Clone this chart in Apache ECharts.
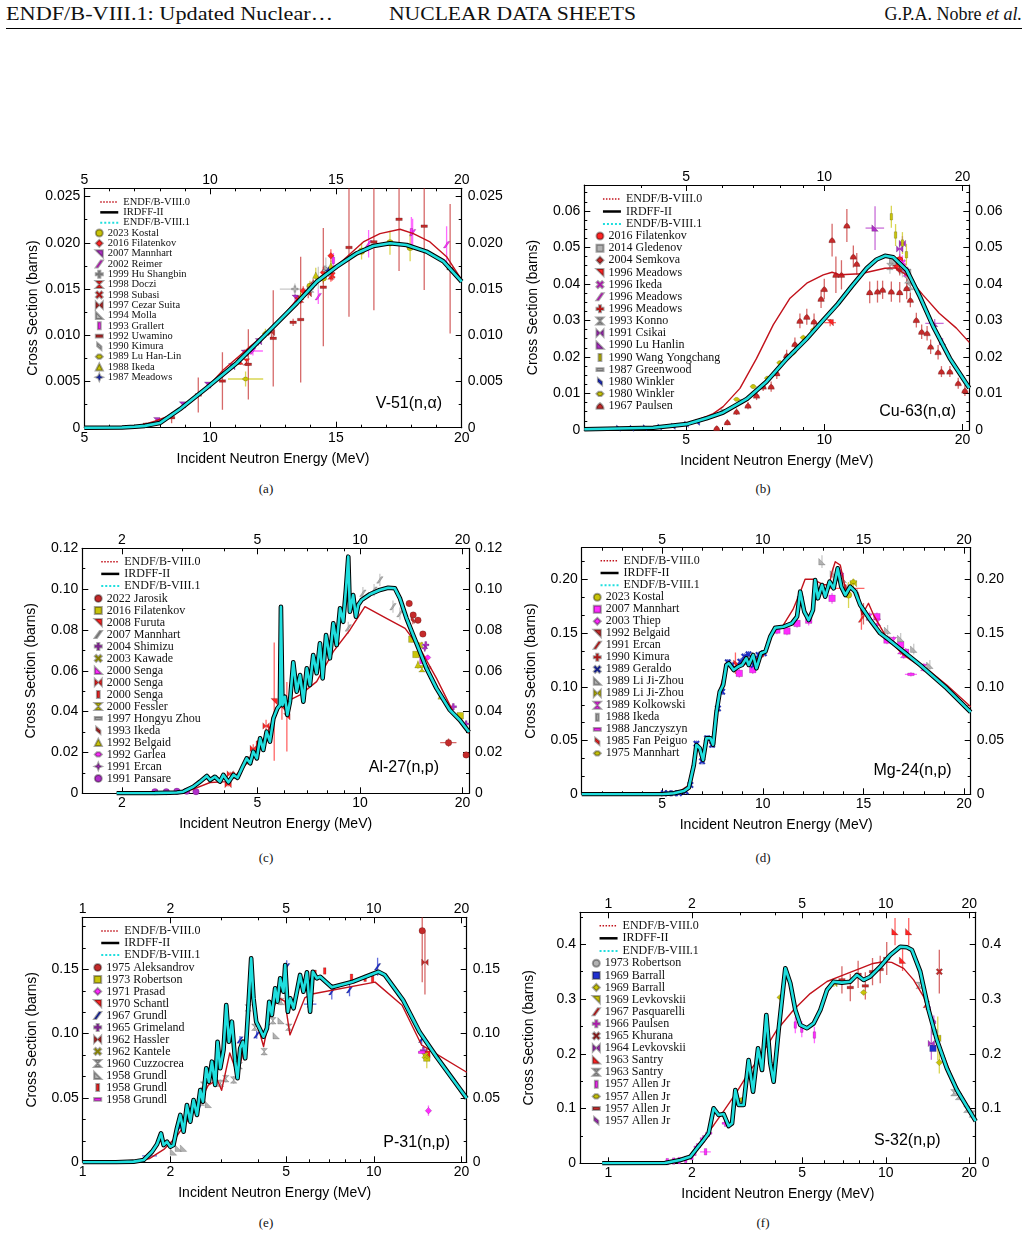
<!DOCTYPE html>
<html>
<head>
<meta charset="utf-8">
<script src="https://cdn.jsdelivr.net/npm/echarts/dist/echarts.min.js"></script>
<style>
  body { margin: 0; background: #fff; }
  #page { position: relative; width: 1029px; height: 1238px; overflow: hidden; }
  .chart { position: absolute; left: 0; top: 0; width: 1029px; height: 1238px; }
  svg { position: absolute; left: 0; top: 0; }
</style>
</head>
<body>
<div id="page">
<svg width="1029" height="1238">
  <g font-family="Liberation Serif, serif" fill="#111">
    <text x="6" y="20" font-size="18" textLength="327" lengthAdjust="spacingAndGlyphs">ENDF/B-VIII.1: Updated Nuclear…</text>
    <text x="389" y="20" font-size="18" textLength="247" lengthAdjust="spacingAndGlyphs">NUCLEAR DATA SHEETS</text>
    <text x="1022" y="20" font-size="18" text-anchor="end">G.P.A. Nobre <tspan font-style="italic">et al.</tspan></text>
    <text x="266" y="493" font-size="13" text-anchor="middle">(a)</text>
    <text x="763" y="493" font-size="13" text-anchor="middle">(b)</text>
    <text x="266" y="862" font-size="13" text-anchor="middle">(c)</text>
    <text x="763" y="862" font-size="13" text-anchor="middle">(d)</text>
    <text x="266" y="1227" font-size="13" text-anchor="middle">(e)</text>
    <text x="763" y="1227" font-size="13" text-anchor="middle">(f)</text>
  </g>
  <line x1="6" y1="28.5" x2="1022" y2="28.5" stroke="#000" stroke-width="1"/>
</svg>
<div class="chart" id="pa"></div>
<div class="chart" id="pb"></div>
<div class="chart" id="pc"></div>
<div class="chart" id="pd"></div>
<div class="chart" id="pe"></div>
<div class="chart" id="pf"></div>
</div>
<script>
// ---------- colours and marker shapes ----------
var RED = '#ff2424', DRED = '#c42a2a', MAG = '#ff2cff', PUR = '#b02fc8',
    YEL = '#c9c40a', GRAY = '#b2b2b2', BLUE = '#1f2fcf';
var C_ENDF80 = '#c2121b', C_CYAN = '#1fdede';
var S = {
  circle: 'circle', square: 'rect', diamond: 'diamond', tri: 'triangle',
  flagR: 'path://M0,0L10,0L10,10Z',
  flagL: 'path://M0,0L0,10L10,10Z',
  bow: 'path://M0,0L10,0L5,5L10,10L0,10L5,5Z',
  bowH: 'path://M0,0L5,5L10,0L10,10L5,5L0,10Z',
  plus: 'path://M3.5,0H6.5V3.5H10V6.5H6.5V10H3.5V6.5H0V3.5H3.5Z',
  cross: 'path://M0,2L2,0L5,3L8,0L10,2L7,5L10,8L8,10L5,7L2,10L0,8L3,5Z',
  vbar: 'path://M0,0H4V10H0Z',
  hbar: 'path://M0,0H10V4H0Z',
  slash: 'path://M0,10L7,0L10,0L3,10Z',
  star: 'path://M5,0L6.5,3.5L10,5L6.5,6.5L5,10L3.5,6.5L0,5L3.5,3.5Z',
  hat: 'path://M0,5L3,2H7L10,5L7,8H3Z',
  bell: 'path://M5,0C8,2 10,5 10,8H0C0,5 2,2 5,0Z',
  thin: 'path://M2,0L8,5L8,10L2,5Z'
};

// ---------- (a) V-51(n,alpha) ----------
var aXTicks = [5, 10, 15, 20];
var aXMinor = [6, 7, 8, 9, 11, 12, 13, 14, 16, 17, 18, 19];
var aYTicks = [0, 0.005, 0.010, 0.015, 0.020, 0.025];
var aYMinor = [0.0025, 0.0075, 0.0125, 0.0175, 0.0225];
var aEndf80 = [[5,0],[6.5,0.00003],[7.2,0.0002],[7.8,0.0007],[8.4,0.0013],[9.07,0.00246],[9.8,0.0041],[10.52,0.00625],[11.59,0.00877],[12.51,0.0109],[13.04,0.01255],[13.4,0.0137],[13.97,0.0151],[15.03,0.0175],[16.09,0.0201],[16.75,0.0210],[17.55,0.02147],[18.08,0.0210],[18.74,0.0201],[19.4,0.0185],[20,0.0160]];
var aEval = [[5,0],[6.5,0.00002],[7.0,0.0001],[7.41,0.0002],[8.0,0.0005],[8.8,0.002],[9.86,0.0043],[11.06,0.0070],[12.25,0.0102],[13.44,0.01346],[14.24,0.0158],[15.03,0.01742],[15.83,0.01887],[16.49,0.01966],[17.15,0.01996],[17.81,0.01977],[18.6,0.01905],[19.27,0.0180],[20,0.0158]];
var aKostal = [[13.97,0.0153,0.0006],[14.5,0.0162,0.0006],[16.02,0.0191,0.0009],[17.15,0.0200,0.0013],[17.95,0.0195,0.0015]];
var aFilatenkov = [[13.7,0.0148,0.0005],[14.1,0.0156,0.0005],[14.5,0.0168,0.0006],[14.8,0.0186,0.0007]];
var aMannhart = [[7.88,0.00076,0.0002],[8.9,0.00246,0.0002],[9.9,0.0046,0.0003],[10.86,0.0066,0.0003],[11.36,0.00805,0.0004],[11.92,0.0093,0.0004],[13.38,0.0140,0.0005]];
var aReimer = [[11.7,0.0083,0.0005,0.4],[14.3,0.01418,0.0008],[16.3,0.0199,0.0015],[18.05,0.0211,0.0015],[19.4,0.0198,0.0020]];
var aHu = [[13.37,0.0150,0.0006,0.6],[14.1,0.0155,0.0006],[14.6,0.0170,0.0006]];
var aDoczi = [[11.2,0.0072,0.0004],[11.45,0.0071,0.0004],[13.6,0.0139,0.0005],[14.8,0.0164,0.0006]];
var aSubasi = [[13.5,0.0138,0.0005],[14.85,0.0165,0.0006]];
var aCezar = [[12.44,0.0103,0.0005],[13.9,0.0145,0.0005]];
var aMolla = [[14.0,0.0150,0.0005],[14.7,0.0168,0.0005]];
var aGrallert = [[14.9,0.0181,0.0008],[18.0,0.0212,0.0016]];
var aUwamino = [[7.46,0.00037,0.0002],[8.47,0.00108,0.0006],[9.53,0.00354,0.0019],[10.49,0.00505,0.0031],[11.52,0.00686,0.0038],[12.51,0.00967,0.0052],[13.3,0.0114,0.0004],[13.6,0.0117,0.0068],[14.5,0.0152,0.0064],[15.52,0.0195,0.0075],[16.51,0.0201,0.0074],[17.51,0.02255,0.0056],[18.51,0.0218,0.0069],[19.54,0.0172,0.007]];
var aKimura = [[14.3,0.0162,0.0012],[14.6,0.0172,0.0012]];
var aLuHanLin = [[11.41,0.00527,0.0008,0.7],[12.2,0.0102,0.0005]];
var aIkeda = [[13.6,0.0142,0.0006],[14.2,0.0165,0.0008],[14.8,0.0175,0.0006]];
var aMeadows = [[14.7,0.0170,0.0004]];

// ---------- (b) Cu-63(n,alpha) ----------
var bXTicks = [5, 10, 20];
var bXMinor = [4, 6, 7, 8, 9];
var bYTicks = [0, 0.01, 0.02, 0.03, 0.04, 0.05, 0.06];
var bYMinor = [0.0025,0.005,0.0075,0.0125,0.015,0.0175,0.0225,0.025,0.0275,0.0325,0.035,0.0375,0.0425,0.045,0.0475,0.0525,0.055,0.0575,0.0625,0.065];
var bEndf80 = [[3,0.0002],[4.69,0.0008],[5.18,0.0022],[5.73,0.0045],[6.02,0.0064],[6.55,0.0114],[7.12,0.0196],[7.74,0.0288],[8.42,0.0361],[9.16,0.0402],[9.95,0.0425],[10.4,0.0432],[10.82,0.0425],[12.0,0.0428],[13.56,0.0443],[14.3,0.0444],[15.1,0.0425],[16.4,0.037],[17.8,0.032],[19.4,0.0279],[20.7,0.024]];
var bEval = [[3,0.0002],[4.24,0.0006],[5.01,0.0016],[5.54,0.0032],[6.02,0.0048],[6.78,0.0085],[7.49,0.0133],[8.28,0.0195],[9.16,0.025],[9.95,0.0301],[10.7,0.0345],[11.5,0.0395],[12.37,0.0443],[13.0,0.0467],[13.56,0.0477],[14.14,0.0473],[15.12,0.0438],[16.16,0.0365],[17.28,0.0283],[18.78,0.0196],[20.7,0.0115]];
var bFilatenkov = [[14.3,0.0457,0.0015],[14.6,0.0466,0.0015]];
var bGledenov = [[14.1,0.046,0.0015],[15.2,0.0432,0.0015]];
var bSemkova = [[14.6,0.0438,0.0015]];
var bMeadowsA = [[10.3,0.0294,0.001,0.3]];
var bIkeda = [[14.8,0.0458,0.002],[15.0,0.0438,0.002]];
var bMeadowsB = [[15.1,0.043,0.0015]];
var bMeadowsC = [[14.4,0.0448,0.0012]];
var bKonno = [[13.9,0.0448,0.002],[14.8,0.0438,0.002],[15.2,0.0411,0.003],[15.4,0.0393,0.003]];
var bCsikai = [[14.6,0.0496,0.002],[14.8,0.0511,0.002]];
var bLuHanlin = [[12.9,0.0553,0.006,0.6],[17.4,0.0292,0.0012,0.8],[18.1,0.0242,0.001]];
var bWang = [[14.0,0.0584,0.003],[14.3,0.0534,0.003],[14.8,0.0512,0.003],[15.1,0.048,0.003]];
var bGreenwood = [[6.05,0.0053,0.0004],[6.6,0.008,0.0005]];
var bWinklerA = [[3.56,0.0005],[3.81,0.0005],[4.07,0.0006],[4.38,0.0008],[4.69,0.001],[5.01,0.0016],[5.3,0.0021]];
var bWinklerB = [[6.44,0.0084,0.0005],[7.0,0.0119,0.0006],[7.52,0.0142,0.0006],[8.0,0.0184,0.0007],[8.56,0.0212,0.0008],[9.0,0.0253,0.0008],[9.47,0.0274,0.0009]];
var bPaulsen = [[5.83,0.0005,0.0006],[6.15,0.0021,0.0008],[6.44,0.005,0.0009],[6.82,0.0067,0.001],[7.12,0.0094,0.0012],[7.36,0.0119,0.0012],[7.66,0.0119,0.0014],[7.88,0.0155,0.0015],[8.28,0.0204,0.0016],[8.63,0.0235,0.0018],[8.85,0.0299,0.002],[9.16,0.031,0.0022],[9.5,0.0297,0.0022],[9.84,0.0359,0.0025],[10.0,0.0386,0.0028],[10.4,0.052,0.0045],[10.6,0.0425,0.005],[10.9,0.0425,0.004],[11.2,0.056,0.0045],[11.57,0.0475,0.003],[11.77,0.0455,0.003],[12.56,0.0377,0.003],[13.06,0.0379,0.003],[13.4,0.0384,0.0025],[14.0,0.0379,0.0028],[14.6,0.0377,0.0028],[15.12,0.0388,0.003],[15.4,0.0356,0.002],[15.87,0.0301,0.002],[16.3,0.0269,0.002],[16.75,0.0265,0.002],[17.05,0.0228,0.002],[17.7,0.0213,0.002],[18.0,0.016,0.0015],[18.78,0.016,0.0015],[19.58,0.0128,0.0015],[20.25,0.0108,0.0015]];

// ---------- (c) Al-27(n,p) ----------
var cXTicks = [2, 5, 10, 20];
var cXMinor = [3, 4, 6, 7, 8, 9];
var cYTicks = [0, 0.02, 0.04, 0.06, 0.08, 0.10, 0.12];
var cYMinor = [0.01, 0.03, 0.05, 0.07, 0.09, 0.11];
var cEndf80 = [[1.93,0],[2.5,0.0001],[3.0,0.0008],[3.24,0.002],[3.63,0.0053],[4.06,0.0057],[4.33,0.009],[4.65,0.0147],[5.09,0.0229],[5.57,0.036],[5.72,0.0416],[6.09,0.0449],[6.67,0.0482],[7.46,0.0547],[8.35,0.0694],[9.34,0.080],[10.34,0.0914],[12.0,0.0855],[13.57,0.0808],[14.99,0.0710],[16.78,0.0563],[18.77,0.040],[20.9,0.0292]];
var cEval = [[1.93,0],[2.5,0.0001],[2.9,0.0004],[3.03,0.0008],[3.24,0.0032],[3.39,0.0057],[3.55,0.0085],[3.63,0.0065],[3.75,0.0081],[3.88,0.0057],[3.97,0.009],[4.11,0.0054],[4.25,0.009],[4.37,0.0076],[4.50,0.0122],[4.65,0.0171],[4.76,0.0147],[4.86,0.0204],[4.98,0.0171],[5.09,0.0269],[5.20,0.0212],[5.32,0.0302],[5.44,0.0253],[5.57,0.0367],[5.72,0.0416],[5.82,0.0432],[5.86,0.0914],[5.92,0.0432],[6.02,0.0473],[6.12,0.0384],[6.23,0.0449],[6.37,0.0642],[6.52,0.0498],[6.67,0.0579],[6.82,0.0449],[6.98,0.0612],[7.13,0.053],[7.29,0.0677],[7.46,0.0588],[7.63,0.0735],[7.77,0.0563],[7.95,0.0775],[8.16,0.0661],[8.35,0.0833],[8.54,0.0726],[8.74,0.0906],[8.93,0.084],[9.10,0.1004],[9.24,0.1159],[9.34,0.0889],[9.55,0.0971],[9.73,0.0865],[9.88,0.0922],[10.11,0.0947],[10.70,0.0975],[11.44,0.0996],[12.1,0.1007],[12.66,0.1004],[13.1,0.0955],[13.7,0.0857],[14.33,0.0775],[14.99,0.0694],[15.68,0.0612],[16.78,0.0514],[18.36,0.0408],[19.64,0.0359],[20.9,0.030]];
var cJarosik = [[13.95,0.093,0.0015],[14.33,0.0873,0.0015],[14.8,0.0848,0.0015],[15.3,0.078,0.0015],[18.2,0.0248,0.002,1.0],[20.5,0.0188,0.0015]];
var cFilatenkov = [[14.2,0.0755,0.0015],[14.6,0.068,0.0015],[19.7,0.038,0.0015]];
var cFuruta = [[5.6,0.0449,0.029],[5.9,0.042,0.006],[6.1,0.0375,0.017]];
var cMannhart = [[9.24,0.081,0.003],[10.2,0.098,0.003],[11.0,0.0995,0.003],[11.44,0.1045,0.003],[12.5,0.0914,0.003],[13.1,0.088,0.003]];
var cShimizu = [[15.6,0.0727,0.0015],[18.8,0.0424,0.0015],[20.5,0.034,0.0015]];
var cKawade = [[15.0,0.0726,0.0015]];
var cSengaA = [[15.3,0.065,0.0015]];
var cSengaB = [[4.1,0.0043,0.001],[4.16,0.0095,0.001],[4.86,0.022,0.002],[5.3,0.033,0.003]];
var cSengaC = [[4.25,0.0088,0.001],[4.7,0.016,0.002],[5.0,0.024,0.002]];
var cFessler = [[15.2,0.061,0.0015]];
var cHongyu = [[15.8,0.0615,0.0015]];
var cIkeda = [[14.3,0.0848,0.002]];
var cBelgaid = [[14.8,0.063,0.002],[17.3,0.0477,0.0015]];
var cGarlea = [[15.8,0.0665,0.0015]];
var cErcan = [[15.5,0.071,0.0015]];
var cPansare = [[2.5,0.0008],[2.7,0.0008],[2.9,0.001],[3.1,0.001],[3.3,0.0008]];

// ---------- (d) Mg-24(n,p) ----------
var dXTicks = [5, 10, 15, 20];
var dXMinor = [2, 3, 4, 6, 7, 8, 9, 11, 12, 13, 14, 16, 17, 18, 19];
var dYTicks = [0, 0.05, 0.10, 0.15, 0.20];
var dYMinor = [0.0167,0.0333,0.0667,0.0833,0.1167,0.1333,0.1667,0.1833,0.2167];
var dEndf80 = [[1,0],[5.0,0],[5.8,0.002],[6.3,0.008],[6.6,0.035],[6.8,0.044],[7.0,0.035],[7.2,0.052],[7.5,0.05],[7.7,0.082],[7.9,0.10],[8.2,0.12],[8.5,0.118],[9.0,0.12],[9.5,0.125],[10.0,0.128],[10.3,0.145],[10.6,0.155],[11.0,0.157],[11.5,0.172],[11.9,0.19],[12.1,0.2],[12.5,0.2],[13.0,0.195],[13.3,0.195],[13.44,0.207],[13.6,0.2163],[13.85,0.2132],[14.1,0.1916],[14.45,0.193],[14.76,0.1854],[14.93,0.1668],[15.25,0.1777],[15.5,0.167],[16.17,0.1451],[16.99,0.1296],[17.82,0.119],[18.32,0.1141],[19.14,0.1017],[20.33,0.0815]];
var dEval = [[1,0],[5.0,0],[5.58,0.001],[6.07,0.003],[6.32,0.0062],[6.57,0.027],[6.70,0.0459],[6.87,0.0428],[7.03,0.0319],[7.2,0.0521],[7.4,0.0521],[7.53,0.0462],[7.7,0.0768],[7.86,0.0954],[8.03,0.1017],[8.19,0.1203],[8.31,0.1219],[8.55,0.1156],[8.77,0.1187],[8.97,0.1203],[9.18,0.1265],[9.3,0.1203],[9.52,0.1296],[9.68,0.1172],[9.91,0.1312],[10.13,0.1327],[10.37,0.1466],[10.62,0.155],[11.03,0.1559],[11.45,0.1591],[11.7,0.1652],[11.86,0.1885],[12.06,0.1699],[12.28,0.1621],[12.49,0.1714],[12.6,0.1993],[12.74,0.1823],[12.94,0.1947],[13.1,0.1838],[13.32,0.1978],[13.52,0.1916],[13.72,0.2102],[13.9,0.1931],[14.1,0.1854],[14.34,0.1931],[14.59,0.1885],[14.84,0.1761],[15.34,0.1621],[15.83,0.1498],[16.17,0.1451],[17.82,0.1203],[19.14,0.0986],[20.33,0.0765]];
var dKostal = [[14.26,0.1854,0.012]];
var dMannhart07 = [[8.83,0.1125,0.004],[9.5,0.116,0.004],[10.7,0.1528,0.004],[11.2,0.1519,0.004],[11.7,0.159,0.004],[11.86,0.181,0.005],[12.28,0.162,0.005],[13.44,0.1823,0.005],[13.85,0.2024,0.005],[15.67,0.1652,0.004],[16.17,0.1435,0.004],[16.85,0.139,0.004],[17.1,0.132,0.004]];
var dThiep = [[13.85,0.2055,0.004]];
var dBelgaid = [[15.0,0.168,0.01]];
var dErcan = [[14.9,0.163,0.01]];
var dKimura = [[14.1,0.1916,0.004,0.95]];
var dGeraldo = [[5.08,0.001],[5.3,0.001],[5.58,0.001],[5.83,0.001],[6.17,0.0025],[6.40,0.0087,0.002],[6.70,0.0471,0.003],[6.98,0.0307,0.003],[7.23,0.0521,0.003],[7.48,0.046,0.003],[7.77,0.0799,0.003],[7.98,0.0954,0.003],[8.26,0.1228,0.003],[8.47,0.1203,0.003],[8.88,0.1234,0.003],[9.08,0.1281,0.003],[9.29,0.1302,0.003],[9.54,0.1203,0.003],[9.79,0.1296,0.003],[10.05,0.1312,0.003]];
var dLiA = [[12.94,0.2164,0.006],[13.5,0.205,0.006],[14.0,0.2,0.006],[15.3,0.165,0.005],[16.2,0.1525,0.005],[16.85,0.145,0.005],[17.5,0.135,0.005],[18.3,0.12,0.005]];
var dLiB = [[14.5,0.196,0.004]];
var dKolkowski = [[15.3,0.165,0.004],[15.7,0.16,0.004],[16.5,0.143,0.004],[16.85,0.1335,0.004],[17.0,0.13,0.004],[18.0,0.118,0.004]];
var dIkeda = [[13.9,0.2,0.006],[14.2,0.19,0.006],[14.7,0.185,0.006]];
var dJanczyszyn = [[17.36,0.1116,0.002,0.3]];
var dFan = [[8.64,0.1219,0.01]];
var dMannhart75 = [[14.5,0.1978,0.003]];

// ---------- (e) P-31(n,p) ----------
var eXTicks = [1, 2, 5, 10, 20];
var eXMinor = [3, 4, 6, 7, 8, 9];
var eYTicks = [0, 0.05, 0.10, 0.15];
var eYMinor = [0.0167,0.0333,0.0667,0.0833,0.1167,0.1333,0.1667,0.1833];
var eEndf80 = [[1,0],[1.5,0.0005],[1.7,0.003],[1.9,0.010],[2.1,0.020],[2.3,0.033],[2.5,0.045],[2.7,0.06],[2.9,0.064],[3.0,0.056],[3.2,0.085],[3.4,0.068],[3.6,0.09],[3.8,0.15],[3.95,0.11],[4.18,0.09],[4.4,0.115],[4.7,0.128],[4.95,0.125],[5.15,0.099],[5.5,0.115],[5.8,0.128],[6.2,0.131],[10.1,0.140],[12.5,0.122],[14.6,0.091],[20.84,0.07]];
var eEval = [[1,0],[1.3,0],[1.496,0.0005],[1.62,0.0018],[1.73,0.0082],[1.80,0.014],[1.858,0.0225],[1.896,0.0134],[1.948,0.016],[2.0,0.0121],[2.05,0.0134],[2.107,0.0264],[2.164,0.0368],[2.221,0.0238],[2.28,0.0445],[2.342,0.0316],[2.403,0.0484],[2.469,0.0368],[2.534,0.0562],[2.588,0.0471],[2.657,0.0731],[2.714,0.0626],[2.779,0.0782],[2.852,0.0601],[2.905,0.0937],[2.968,0.0731],[3.046,0.0873],[3.112,0.1222],[3.178,0.0937],[3.254,0.1093],[3.34,0.0782],[3.402,0.0653],[3.475,0.0886],[3.55,0.0937],[3.615,0.0808],[3.71,0.1222],[3.79,0.1585],[3.86,0.1275],[3.944,0.1093],[4.049,0.1041],[4.178,0.0976],[4.292,0.1041],[4.371,0.1248],[4.465,0.1145],[4.581,0.1352],[4.667,0.1248],[4.767,0.143],[4.892,0.1326],[4.96,0.1533],[5.066,0.117],[5.16,0.1275],[5.30,0.1197],[5.44,0.1326],[5.58,0.1456],[5.73,0.1326],[5.89,0.1477],[6.04,0.117],[6.17,0.1481],[6.37,0.143],[6.54,0.1442],[7.17,0.136],[8.48,0.1404],[10.37,0.1481],[10.9,0.1456],[12.6,0.1261],[14.34,0.1015],[16.4,0.0821],[18.75,0.064],[20.84,0.0497]];
var eAleksandrov = [[14.66,0.18,0.04]];
var eRobertson = [[15.2,0.081,0.008]];
var ePrasad = [[15.4,0.0401,0.004]];
var eSchantl = [[15.2,0.084,0.004]];
var eGrundl67 = [[1.7,0.005,0,0.1],[2.16,0.0277,0.002],[2.53,0.0445,0.002],[3.47,0.0951,0.003],[3.96,0.099,0.003],[4.29,0.105,0.003],[5.02,0.152,0.005],[6.05,0.123,0.004,0.3],[7.17,0.1326,0.006],[8.25,0.134,0.005],[10.3,0.152,0.007],[14.6,0.0956,0.004]];
var eGrimeland = [[14.8,0.087,0.004]];
var eHassler = [[14.98,0.1554,0.025]];
var eKantele = [[15.0,0.083,0.004]];
var eCuzzocrea = [[2.6,0.06,0.003],[2.97,0.0614,0.003],[3.1,0.065,0.003],[3.3,0.064,0.003],[3.45,0.075,0.003],[3.7,0.12,0.003],[3.9,0.105,0.003],[4.2,0.086,0.003],[4.5,0.11,0.003],[4.8,0.125,0.003],[5.1,0.105,0.003]];
var eGrundl58A = [[2.05,0.008],[2.13,0.011],[2.22,0.011],[2.55,0.0466],[2.7,0.045],[4.62,0.0984],[4.8,0.11]];
var eGrundl58B = [[6.28,0.1469,0.002],[6.78,0.1487,0.002],[8.38,0.1438,0.002],[9.33,0.143,0.002],[9.9,0.1422,0.002]];
var eGrundl58C = [[14.6,0.0855,0.001,0.4]];

// ---------- (f) S-32(n,p) ----------
var fXTicks = [1, 2, 5, 10, 20];
var fXMinor = [3, 4, 6, 7, 8, 9];
var fYTicks = [0, 0.1, 0.2, 0.3, 0.4];
var fYMinor = [0.05, 0.15, 0.25, 0.35, 0.45];
var fEndf80 = [[0.95,0],[1.7,0.001],[1.9,0.007],[2.0,0.015],[2.1,0.028],[2.2,0.045],[2.4,0.07],[2.6,0.095],[2.9,0.13],[3.2,0.165],[3.53,0.195],[4.05,0.2435],[4.65,0.28],[5.34,0.31],[6.14,0.332],[7.05,0.344],[8.1,0.356],[9.0,0.365],[9.8,0.368],[10.5,0.367],[11.6,0.356],[12.6,0.335],[13.7,0.304],[15.3,0.228],[17.6,0.149],[21.1,0.078]];
var fEval = [[0.95,0],[1.6,0.0005],[1.817,0.006],[1.975,0.012],[2.087,0.0274],[2.205,0.0426],[2.298,0.0548],[2.396,0.1005],[2.497,0.0882],[2.604,0.09],[2.714,0.0681],[2.792,0.073],[2.869,0.1339],[2.949,0.1065],[3.073,0.1065],[3.203,0.1887],[3.323,0.1308],[3.463,0.21],[3.58,0.1704],[3.71,0.2709],[3.835,0.1827],[3.942,0.149],[4.109,0.2435],[4.344,0.3562],[4.528,0.3288],[4.72,0.28],[4.92,0.2526],[5.2,0.2466],[5.50,0.2557],[5.81,0.28],[6.14,0.3165],[6.49,0.3317],[6.95,0.3299],[7.45,0.3317],[7.87,0.3439],[8.32,0.3348],[8.79,0.3408],[9.55,0.3591],[10.38,0.3805],[11.28,0.3956],[11.92,0.3945],[12.43,0.3896],[13.32,0.35],[14.27,0.28],[15.29,0.2252],[16.61,0.1735],[18.06,0.1339],[19.62,0.1034],[21.1,0.077]];
var fRobertson = [[15.0,0.24,0.005]];
var fBarrallA = [[14.8,0.21,0.005]];
var fBarrallB = [[15.6,0.184,0.02]];
var fLevkovskii69 = [[2.99,0.113],[6.5,0.328,0.006],[15.4,0.228,0.04]];
var fPasquarelli = [[14.0,0.29,0.01]];
var fPaulsen = [[2.09,0.03],[2.2,0.045],[2.3,0.055],[2.64,0.073]];
var fKhurana = [[15.6,0.35,0.04]];
var fLevkovskii64 = [[14.6,0.219,0.03]];
var fSantryA = [[10.8,0.423,0.025],[11.5,0.371,0.02],[12.1,0.423,0.025]];
var fSantryB = [[13.2,0.325,0.005],[17.6,0.129,0.004],[18.3,0.122,0.004],[19.6,0.0986,0.004],[20.5,0.09,0.004]];
var fAllenA = [[1.63,0.003],[1.72,0.004],[1.8,0.005],[1.9,0.007],[2.0,0.012],[2.05,0.02],[2.24,0.021,0.003,0.1],[4.72,0.2526,0.015],[4.98,0.245,0.015],[5.53,0.2343,0.015]];
var fAllenB = [[3.03,0.116,0.004],[4.16,0.303,0.006],[8.32,0.312,0.006]];
var fAllenC = [[6.95,0.335,0.025],[7.45,0.321,0.025],[7.95,0.345,0.025],[8.44,0.324,0.025],[8.96,0.35,0.025],[9.55,0.354,0.025],[10.08,0.374,0.03]];
var fAllenD = [[14.27,0.286,0.01],[14.9,0.26,0.01]];

// ---------- panel descriptions ----------
var panels = [
  { id: 'pa', log: false, xMin: 5, xMax: 20, xTicks: aXTicks, xMinor: aXMinor, yMax: 0.0259, yTicks: aYTicks, yMinor: aYMinor, digits: 3,
    box: [84.3, 188.3, 461.7, 427.7], label: 'V-51(n,α)', labelPos: [442, 404],
    lineLeg: [99, 201.7, 10.3], setLeg: [98.3, 232.7, 10.3], legFont: 10.5, legGap: -0.7,
    endf80: aEndf80, evalc: aEval,
    sets: [['2023 Kostal', S.circle, YEL, aKostal], ['2016 Filatenkov', S.diamond, RED, aFilatenkov], ['2007 Mannhart', S.flagR, PUR, aMannhart],
      ['2002 Reimer', S.slash, MAG, aReimer], ['1999 Hu Shangbin', S.plus, GRAY, aHu], ['1998 Doczi', S.bow, RED, aDoczi],
      ['1998 Subasi', S.cross, RED, aSubasi], ['1997 Cezar Suita', S.bowH, DRED, aCezar], ['1994 Molla', S.flagL, GRAY, aMolla],
      ['1993 Grallert', S.vbar, MAG, aGrallert], ['1992 Uwamino', S.hbar, DRED, aUwamino], ['1990 Kimura', S.thin, GRAY, aKimura],
      ['1989 Lu Han-Lin', S.hat, YEL, aLuHanLin], ['1988 Ikeda', S.tri, YEL, aIkeda], ['1987 Meadows', S.star, BLUE, aMeadows]] },
  { id: 'pb', log: true, xMin: 3, xMax: 20.7, xTicks: bXTicks, xMinor: bXMinor, yMax: 0.0671, yTicks: bYTicks, yMinor: bYMinor, digits: 2,
    box: [584.3, 185, 969.3, 430], label: 'Cu-63(n,α)', labelPos: [956, 411.7],
    lineLeg: [601.7, 199, 12.5], setLeg: [599, 236, 12.14], legFont: 12, legGap: 0,
    endf80: bEndf80, evalc: bEval,
    sets: [['2016 Filatenkov', S.circle, RED, bFilatenkov], ['2014 Gledenov', S.square, GRAY, bGledenov], ['2004 Semkova', S.diamond, DRED, bSemkova],
      ['1996 Meadows', S.flagR, RED, bMeadowsA], ['1996 Ikeda', S.cross, MAG, bIkeda], ['1996 Meadows', S.slash, MAG, bMeadowsB],
      ['1996 Meadows', S.plus, RED, bMeadowsC], ['1993 Konno', S.bow, GRAY, bKonno], ['1991 Csikai', S.bowH, PUR, bCsikai],
      ['1990 Lu Hanlin', S.flagL, PUR, bLuHanlin], ['1990 Wang Yongchang', S.vbar, YEL, bWang], ['1987 Greenwood', S.hbar, GRAY, bGreenwood],
      ['1980 Winkler', S.thin, BLUE, bWinklerA], ['1980 Winkler', S.hat, YEL, bWinklerB], ['1967 Paulsen', S.bell, DRED, bPaulsen]] },
  { id: 'pc', log: true, xMin: 1.53, xMax: 20.9, xTicks: cXTicks, xMinor: cXMinor, yMax: 0.12, yTicks: cYTicks, yMinor: cYMinor, digits: 2,
    box: [82.3, 548.3, 469, 793.3], label: 'Al-27(n,p)', labelPos: [439, 767.3],
    lineLeg: [100, 561.7, 12.2], setLeg: [97.3, 598.3, 11.85], legFont: 12, legGap: 0,
    endf80: cEndf80, evalc: cEval,
    sets: [['2022 Jarosik', S.circle, DRED, cJarosik], ['2016 Filatenkov', S.square, YEL, cFilatenkov], ['2008 Furuta', S.flagR, RED, cFuruta],
      ['2007 Mannhart', S.slash, GRAY, cMannhart], ['2004 Shimizu', S.plus, PUR, cShimizu], ['2003 Kawade', S.cross, YEL, cKawade],
      ['2000 Senga', S.flagL, MAG, cSengaA], ['2000 Senga', S.bowH, RED, cSengaB], ['2000 Senga', S.vbar, RED, cSengaC],
      ['2000 Fessler', S.bow, YEL, cFessler], ['1997 Hongyu Zhou', S.hbar, GRAY, cHongyu], ['1993 Ikeda', S.thin, DRED, cIkeda],
      ['1992 Belgaid', S.tri, YEL, cBelgaid], ['1992 Garlea', S.hat, MAG, cGarlea], ['1991 Ercan', S.star, PUR, cErcan],
      ['1991 Pansare', S.circle, PUR, cPansare]] },
  { id: 'pd', log: false, xMin: 1, xMax: 20.33, xTicks: dXTicks, xMinor: dXMinor, yMax: 0.2294, yTicks: dYTicks, yMinor: dYMinor, digits: 2,
    box: [581.7, 547.7, 970.7, 794.3], label: 'Mg-24(n,p)', labelPos: [951.7, 771],
    lineLeg: [599.3, 560.7, 12.3], setLeg: [596.3, 597.3, 12.0], legFont: 12, legGap: 0,
    endf80: dEndf80, evalc: dEval,
    sets: [['2023 Kostal', S.circle, YEL, dKostal], ['2007 Mannhart', S.square, MAG, dMannhart07], ['2003 Thiep', S.diamond, MAG, dThiep],
      ['1992 Belgaid', S.flagR, DRED, dBelgaid], ['1991 Ercan', S.slash, RED, dErcan], ['1990 Kimura', S.plus, RED, dKimura],
      ['1989 Geraldo', S.cross, BLUE, dGeraldo], ['1989 Li Ji-Zhou', S.flagL, GRAY, dLiA], ['1989 Li Ji-Zhou', S.bowH, YEL, dLiB],
      ['1989 Kolkowski', S.bow, MAG, dKolkowski], ['1988 Ikeda', S.vbar, GRAY, dIkeda], ['1988 Janczyszyn', S.hbar, MAG, dJanczyszyn],
      ['1985 Fan Peiguo', S.thin, RED, dFan], ['1975 Mannhart', S.hat, YEL, dMannhart75]] },
  { id: 'pe', log: true, xMin: 1, xMax: 20.84, xTicks: eXTicks, xMinor: eXMinor, yMax: 0.1904, yTicks: eYTicks, yMinor: eYMinor, digits: 2,
    box: [82.7, 917.3, 466.7, 1162.3], label: 'P-31(n,p)', labelPos: [450, 1142.3],
    lineLeg: [100, 931, 12], setLeg: [96.7, 967.3, 11.8], legFont: 12, legGap: 0,
    endf80: eEndf80, evalc: eEval,
    sets: [['1975 Aleksandrov', S.circle, DRED, eAleksandrov], ['1973 Robertson', S.square, YEL, eRobertson], ['1971 Prasad', S.diamond, MAG, ePrasad],
      ['1970 Schantl', S.flagR, RED, eSchantl], ['1967 Grundl', S.slash, BLUE, eGrundl67], ['1965 Grimeland', S.plus, PUR, eGrimeland],
      ['1962 Hassler', S.bowH, DRED, eHassler], ['1962 Kantele', S.cross, YEL, eKantele], ['1960 Cuzzocrea', S.bow, GRAY, eCuzzocrea],
      ['1958 Grundl', S.flagL, GRAY, eGrundl58A], ['1958 Grundl', S.vbar, RED, eGrundl58B], ['1958 Grundl', S.hbar, MAG, eGrundl58C]] },
  { id: 'pf', log: true, xMin: 0.79, xMax: 21.1, xTicks: fXTicks, xMinor: fXMinor, yMax: 0.4584, yTicks: fYTicks, yMinor: fYMinor, digits: 1,
    box: [580, 912.3, 975.7, 1163.3], label: 'S-32(n,p)', labelPos: [940.7, 1140.7],
    lineLeg: [598.3, 925.7, 12.6], setLeg: [595.3, 963.3, 12.1], legFont: 12, legGap: 0,
    endf80: fEndf80, evalc: fEval,
    sets: [['1973 Robertson', S.circle, GRAY, fRobertson], ['1969 Barrall', S.square, BLUE, fBarrallA], ['1969 Barrall', S.diamond, YEL, fBarrallB],
      ['1969 Levkovskii', S.flagR, YEL, fLevkovskii69], ['1967 Pasquarelli', S.slash, RED, fPasquarelli], ['1966 Paulsen', S.plus, MAG, fPaulsen],
      ['1965 Khurana', S.cross, DRED, fKhurana], ['1964 Levkovskii', S.bowH, PUR, fLevkovskii64], ['1963 Santry', S.flagL, RED, fSantryA],
      ['1963 Santry', S.bow, GRAY, fSantryB], ['1957 Allen Jr', S.vbar, MAG, fAllenA], ['1957 Allen Jr', S.hat, YEL, fAllenB],
      ['1957 Allen Jr', S.hbar, DRED, fAllenC], ['1957 Allen Jr', S.thin, PUR, fAllenD]] }
];

var SANS = 'Liberation Sans, Arial, sans-serif';
var SERIF = 'Liberation Serif, Times New Roman, serif';

function buildOption(p) {
  var tx = p.log ? function (e) { return Math.log10(e); } : function (e) { return e; };
  var xfmt = p.log ? function (v) { return String(Math.round(Math.pow(10, v))); } : function (v) { return String(Math.round(v)); };
  var yfmt = function (v) { return Math.abs(v) < 1e-12 ? '0' : v.toFixed(p.digits); };
  var xMaj = p.xTicks.map(tx), xMin = p.xMinor.map(tx);
  var lab = { color: '#000', fontSize: 14, fontFamily: SANS };
  function ax(pos, maj, mnr, minor, labels, extra) {
    var a = {
      type: 'value', position: pos, splitLine: { show: false },
      axisLine: { show: !minor, onZero: false, lineStyle: { color: '#000', width: 1.2 } },
      axisTick: { show: true, inside: true, length: minor ? 3 : 6, customValues: minor ? mnr : maj, lineStyle: { color: '#000', width: 1 } },
      axisLabel: labels ? Object.assign({ show: true, customValues: maj }, lab, labels) : { show: false }
    };
    return Object.assign(a, extra);
  }
  var xr = { min: tx(p.xMin), max: tx(p.xMax) };
  var yr = { min: 0, max: p.yMax };
  var xName = { name: 'Incident Neutron Energy (MeV)', nameLocation: 'middle', nameGap: 24,
    nameTextStyle: { fontSize: 14, fontFamily: SANS, color: '#000' } };
  var yName = { name: 'Cross Section (barns)', nameLocation: 'middle', nameGap: 44,
    nameTextStyle: { fontSize: 14, fontFamily: SANS, color: '#000' } };
  var xAxis = [
    ax('bottom', xMaj, xMin, false, { formatter: xfmt, margin: 3 }, Object.assign({}, xr, xName)),
    ax('top', xMaj, xMin, false, { formatter: xfmt, margin: 1 }, xr),
    ax('bottom', xMaj, xMin, true, null, xr),
    ax('top', xMaj, xMin, true, null, xr)
  ];
  var yAxis = [
    ax('left', p.yTicks, p.yMinor, false, { formatter: yfmt, margin: 4 }, Object.assign({}, yr, yName)),
    ax('right', p.yTicks, p.yMinor, false, { formatter: yfmt, margin: 6 }, yr),
    ax('left', p.yTicks, p.yMinor, true, null, yr),
    ax('right', p.yTicks, p.yMinor, true, null, yr)
  ];

  var series = [];
  var setNames = [];
  var seen = {};
  p.sets.forEach(function (s) {
    var name = s[0];
    while (seen[name]) name += '\u200b';
    seen[name] = true;
    setNames.push(name);
    var col = s[2], pts = s[3];
    var errs = pts.filter(function (d) { return d[2] || d[3]; }).map(function (d) {
      var dy = d[2] || 0, dx = d[3] || 0;
      return [tx(d[0]), d[1], d[1] - dy, d[1] + dy, tx(d[0] - dx), tx(d[0] + dx)];
    });
    if (errs.length) {
      series.push({
        type: 'custom', silent: true, clip: true, z: 2, data: errs,
        renderItem: function (params, api) {
          var x = api.value(0), y = api.value(1);
          var c = api.coord([x, y]);
          var ch = [];
          if (api.value(3) > api.value(2)) {
            var lo = api.coord([x, api.value(2)]), hi = api.coord([x, api.value(3)]);
            ch.push({ type: 'line', shape: { x1: c[0], y1: lo[1], x2: c[0], y2: hi[1] }, style: { stroke: col, lineWidth: 1.3, opacity: 0.7 } });
          }
          if (api.value(5) > api.value(4)) {
            var l = api.coord([api.value(4), y]), r = api.coord([api.value(5), y]);
            ch.push({ type: 'line', shape: { x1: l[0], y1: c[1], x2: r[0], y2: c[1] }, style: { stroke: col, lineWidth: 1.3, opacity: 0.7 } });
          }
          return { type: 'group', children: ch };
        }
      });
    }
    series.push({
      type: 'scatter', name: name, symbol: s[1], symbolSize: 6.5, symbolKeepAspect: true, clip: true, z: 3,
      itemStyle: { color: col, borderColor: 'rgba(0,0,0,0.35)', borderWidth: 0.5, opacity: 1 },
      data: pts.map(function (d) { return [tx(d[0]), d[1]]; })
    });
  });

  function curve(name, data, style, z) {
    return { type: 'line', name: name, symbol: 'none', showSymbol: false, clip: true, z: z, silent: true,
      itemStyle: { color: style.color },
      lineStyle: style, data: data.map(function (d) { return [tx(d[0]), d[1]]; }) };
  }
  series.push(curve('ENDF/B-VIII.0', p.endf80, { color: C_ENDF80, width: 1.4, join: 'round' }, 4));
  series.push(curve('IRDFF-II', p.evalc, { color: '#000', width: 4.6, join: 'round' }, 5));
  series.push(curve('ENDF/B-VIII.1', p.evalc, { color: C_CYAN, width: 2.6, join: 'round' }, 6));

  var hidden = { color: 'rgba(0,0,0,0)', opacity: 0, borderWidth: 0 };
  var legends = [
    { orient: 'vertical', left: p.lineLeg[0], top: p.lineLeg[1] - p.lineLeg[2] / 2, padding: 0, itemGap: p.legGap,
      itemWidth: 18, itemHeight: 7, selectedMode: false,
      textStyle: { fontFamily: SERIF, fontSize: p.legFont, color: '#111', lineHeight: p.lineLeg[2] },
      data: [
        { name: 'ENDF/B-VIII.0', itemStyle: hidden, lineStyle: { type: 'dotted', width: 1.5, color: C_ENDF80 } },
        { name: 'IRDFF-II', itemStyle: hidden, lineStyle: { width: 2.5, color: '#000' } },
        { name: 'ENDF/B-VIII.1', itemStyle: hidden, lineStyle: { type: 'dotted', width: 2, color: C_CYAN } }
      ] },
    { orient: 'vertical', left: p.setLeg[0] - 3.5, top: p.setLeg[1] - p.setLeg[2] / 2, padding: 0, itemGap: p.legGap,
      itemWidth: 7, itemHeight: 7, selectedMode: false,
      textStyle: { fontFamily: SERIF, fontSize: p.legFont, color: '#111', lineHeight: p.setLeg[2] },
      data: setNames }
  ];

  var b = p.box;
  return {
    animation: false,
    grid: { left: b[0], top: b[1], width: b[2] - b[0], height: b[3] - b[1], containLabel: false },
    xAxis: xAxis,
    yAxis: yAxis,
    legend: legends,
    graphic: [{ type: 'text', x: p.labelPos[0], y: p.labelPos[1], z: 10,
      style: { text: p.label, font: '16px ' + SANS, fill: '#000', align: 'right', verticalAlign: 'middle', textAlign: 'right', textVerticalAlign: 'middle' } }],
    series: series
  };
}

panels.forEach(function (p) {
  var chart = echarts.init(document.getElementById(p.id), null, { renderer: 'canvas' });
  chart.setOption(buildOption(p));
});
</script>
</body>
</html>
